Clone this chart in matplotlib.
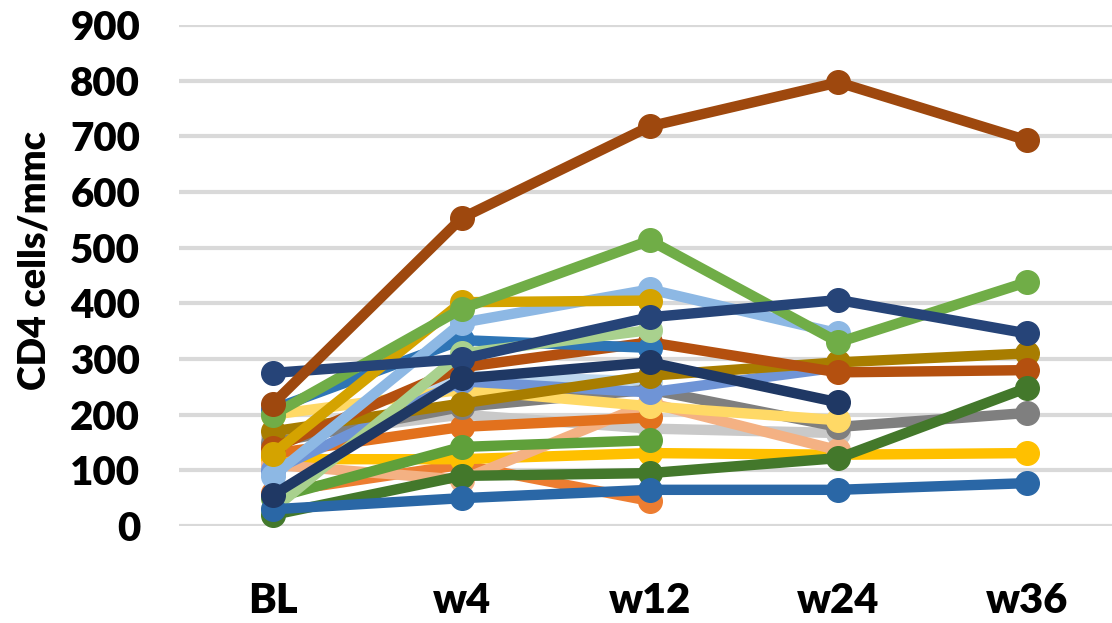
import numpy as np
import matplotlib
matplotlib.use("Agg")
import matplotlib.pyplot as plt

nan = np.nan

# ── data ─────────────────────────────────────────────────────────────────────
visits = ["BL", "w4", "w12", "w24", "w36"]

# one list per patient: CD4 cells/mmc at BL, w4, w12, w24, w36 (nan = not measured)
pt_orange2   = [60, 110, 45, nan, nan]
pt_ltblue2   = [95, 270, 260, nan, nan]
pt_ltgray    = [160, 200, 175, 167, nan]
pt_yellow    = [120, 120, 131, 128, 131]
pt_peach     = [110, 83, 221, 136, nan]
pt_orange    = [130, 178, 195, nan, nan]
pt_green2    = [50, 142, 154, nan, nan]
pt_gray      = [150, 214, 245, 178, 203]
pt_ltyellow  = [200, 245, 215, 190, nan]
pt_periwink  = [100, 260, 240, 285, nan]
pt_darkgold  = [170, 220, 270, 294, 310]
pt_rust      = [140, 285, 330, 276, 280]
pt_steel     = [210, 334, 320, nan, nan]
pt_ltgreen   = [30, 310, 352, nan, nan]
pt_ltblue    = [90, 365, 425, 346, nan]
pt_gold      = [130, 402, 405, nan, nan]
pt_green     = [200, 390, 513, 330, 438]
pt_navy      = [275, 300, 375, 406, 346]
pt_darkgreen = [20, 90, 95, 122, 248]
pt_blue      = [30, 50, 65, 65, 77]
pt_darknavy  = [56, 265, 294, 222, nan]
pt_brown     = [220, 553, 718, 797, 693]

series = [
    (pt_orange2,   "#ED7D31"),
    (pt_ltblue2,   "#BDD7EE"),
    (pt_ltgray,    "#C9C9C9"),
    (pt_yellow,    "#FFC000"),
    (pt_peach,     "#F4B183"),
    (pt_orange,    "#E2711D"),
    (pt_green2,    "#5FA03A"),
    (pt_gray,      "#7F7F7F"),
    (pt_ltyellow,  "#FFD966"),
    (pt_periwink,  "#6F94D6"),
    (pt_darkgold,  "#A87D00"),
    (pt_rust,      "#B4500F"),
    (pt_steel,     "#2E75B6"),
    (pt_ltgreen,   "#A9D18E"),
    (pt_ltblue,    "#8DB8E4"),
    (pt_gold,      "#D4A300"),
    (pt_green,     "#70AD47"),
    (pt_navy,      "#264478"),
    (pt_darkgreen, "#43782B"),
    (pt_blue,      "#2A67A6"),
    (pt_darknavy,  "#1F3864"),
    (pt_brown,     "#9E480E"),
]

FONT = ["Lato", "DejaVu Sans"]

fig = plt.figure(figsize=(11.12, 6.23), dpi=100)
ax = fig.add_axes([179 / 1112, 97 / 623, 942 / 1112, 501 / 623])

x = np.arange(len(visits))
for vals, col in series:
    ax.plot(x, vals, color=col, lw=7.5, marker="o", ms=17,
            solid_capstyle="round", clip_on=False, zorder=3)

ax.set_xlim(-0.5, len(visits) - 0.5)
ax.set_ylim(0, 900)
ax.set_yticks(np.arange(0, 901, 100))
ax.set_xticks(x)
ax.set_xticklabels(visits, fontsize=30, fontweight="heavy", family=FONT)
for t in ax.get_yticklabels():
    t.set_fontsize(29)
    t.set_fontweight("heavy")
    t.set_family(FONT)
ax.tick_params(axis="both", length=0)
ax.tick_params(axis="y", pad=28)
ax.tick_params(axis="x", pad=40)
ax.yaxis.grid(True, color="#D9D9D9", lw=3, zorder=0)
ax.set_axisbelow(True)
for s in ax.spines.values():
    s.set_visible(False)

ax.set_ylabel("CD4 cells/mmc", fontsize=27, fontweight="heavy", family=FONT)
ax.yaxis.set_label_coords(-0.135, 0.53)

fig.savefig("out.png", dpi=100)
